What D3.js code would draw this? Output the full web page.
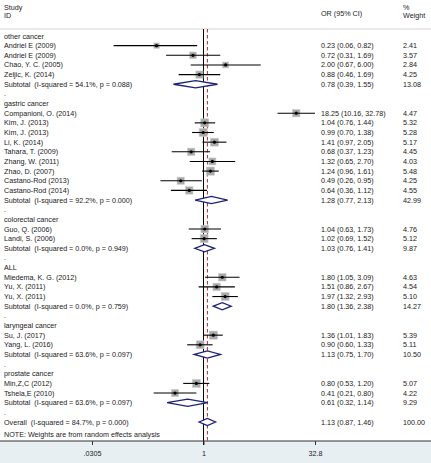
<!DOCTYPE html>
<html><head><meta charset="utf-8">
<script src="https://cdn.jsdelivr.net/npm/d3@7"></script>
<style>
html,body{margin:0;padding:0;background:#fff;}
svg{display:block;font-family:"Liberation Sans",Arial,sans-serif;}
text{white-space:pre;}
</style></head>
<body>
<script>
const rowLabels = [
  "other cancer","Andriel E (2009)","Andriel E (2009)","Chao, Y. C. (2005)","Zeljic, K. (2014)",
  "Subtotal  (I-squared = 54.1%, p = 0.088)",".",
  "gastric cancer","Companioni, O. (2014)","Kim, J. (2013)","Kim, J. (2013)","Li, K. (2014)",
  "Tahara, T. (2009)","Zhang, W. (2011)","Zhao, D. (2007)","Castano-Rod (2013)","Castano-Rod (2014)",
  "Subtotal  (I-squared = 92.2%, p = 0.000)",".",
  "colorectal cancer","Guo, Q. (2006)","Landi, S. (2006)",
  "Subtotal  (I-squared = 0.0%, p = 0.949)",".",
  "ALL","Miedema, K. G. (2012)","Yu, X. (2011)","Yu, X. (2011)",
  "Subtotal  (I-squared = 0.0%, p = 0.759)",".",
  "laryngeal cancer","Su, J. (2017)","Yang, L. (2016)",
  "Subtotal  (I-squared = 63.6%, p = 0.097)",".",
  "prostate cancer","Min,Z,C (2012)","Tshela,E (2010)",
  "Subtotal  (I-squared = 63.6%, p = 0.097)",".",
  "Overall  (I-squared = 84.7%, p = 0.000)"
];
const rowKinds = [
  "group","study","study","study","study","sub","blank",
  "group","study","study","study","study","study","study","study","study","study","sub","blank",
  "group","study","study","sub","blank",
  "group","study","study","study","sub","blank",
  "group","study","study","sub","blank",
  "group","study","study","sub","blank",
  "overall"
];
const orValues = [null,0.23,0.72,2.00,0.88,0.78,null,
  null,18.25,1.04,0.99,1.41,0.68,1.32,1.24,0.49,0.64,1.28,null,
  null,1.04,1.02,1.03,null,
  null,1.80,1.51,1.97,1.80,null,
  null,1.36,0.90,1.13,null,
  null,0.80,0.41,0.61,null,
  1.13];
const lowerCI = [null,0.06,0.31,0.67,0.46,0.39,null,
  null,10.16,0.76,0.70,0.97,0.37,0.65,0.96,0.26,0.36,0.77,null,
  null,0.63,0.69,0.76,null,
  null,1.05,0.86,1.32,1.36,null,
  null,1.01,0.60,0.75,null,
  null,0.53,0.21,0.32,null,
  0.87];
const upperCI = [null,0.82,1.69,6.00,1.69,1.55,null,
  null,32.78,1.44,1.38,2.05,1.23,2.70,1.61,0.95,1.12,2.13,null,
  null,1.73,1.52,1.41,null,
  null,3.09,2.67,2.93,2.38,null,
  null,1.83,1.33,1.70,null,
  null,1.20,0.80,1.14,null,
  1.46];
const weights = [null,2.41,3.57,2.84,4.25,13.08,null,
  null,4.47,5.32,5.28,5.17,4.45,4.03,5.48,4.25,4.55,42.99,null,
  null,4.76,5.12,9.87,null,
  null,4.63,4.54,5.10,14.27,null,
  null,5.39,5.11,10.50,null,
  null,5.07,4.22,9.29,null,
  100.00];
const tickValues = [0.0305, 1, 32.8];
const tickLabels = [".0305", "1", "32.8"];
const noteText = "NOTE: Weights are from random effects analysis";

const W = 431, H = 463;
const svg = d3.select("body").append("svg").attr("width", W).attr("height", H);

const x = d3.scaleLog().domain([0.0305, 32.8]).range([92, 315]);
const y = d3.scaleLinear().domain([0, 40]).range([36, 422]);
const fs = 7.2;
const navy = "#1e2278";
const txt = "#1a1a1a";

const axisY = 441, topLine = 29;
svg.append("rect").attr("x",0).attr("y",axisY).attr("width",W).attr("height",H-axisY).attr("fill","#e8eff3");
svg.append("line").attr("x1",0).attr("x2",W).attr("y1",topLine).attr("y2",topLine).attr("stroke","#d6d6d6").attr("stroke-width",1);

const hdr = svg.append("g").attr("font-size",fs).attr("fill",txt);
hdr.append("text").attr("x",4).attr("y",9.5).text("Study");
hdr.append("text").attr("x",4).attr("y",18).text("ID");
hdr.append("text").attr("x",321).attr("y",15.5).text("OR (95% CI)");
hdr.append("text").attr("x",403).attr("y",9.5).text("%");
hdr.append("text").attr("x",403).attr("y",18).text("Weight");

svg.append("line").attr("x1",x(1)).attr("x2",x(1)).attr("y1",topLine).attr("y2",axisY+4)
  .attr("stroke","#000").attr("stroke-width",1);
const overallIdx = rowKinds.indexOf("overall");
svg.append("line").attr("x1",x(orValues[overallIdx])).attr("x2",x(orValues[overallIdx]))
  .attr("y1",topLine).attr("y2",axisY).attr("stroke","#b02a2a").attr("stroke-width",1).attr("stroke-dasharray","3.5,2.5");

const rows = rowLabels.map((l,i)=>({label:l,kind:rowKinds[i],or:orValues[i],lo:lowerCI[i],hi:upperCI[i],w:weights[i],i}));
const f2 = d3.format(".2f");

svg.append("g").attr("font-size",fs).attr("fill",txt).selectAll("text").data(rows).join("text")
  .attr("x",4).attr("y",d=>y(d.i)+2.5).text(d=>d.label);
svg.append("g").attr("font-size",fs).attr("fill",txt).selectAll("text").data(rows.filter(d=>d.or!=null)).join("text")
  .attr("x",321).attr("y",d=>y(d.i)+2.5).text(d=>`${f2(d.or)} (${f2(d.lo)}, ${f2(d.hi)})`);
svg.append("g").attr("font-size",fs).attr("fill",txt).selectAll("text").data(rows.filter(d=>d.w!=null)).join("text")
  .attr("x",403).attr("y",d=>y(d.i)+2.5).text(d=>f2(d.w));

const st = rows.filter(d=>d.kind==="study");
const g = svg.append("g");
const half = d=>1.75*Math.sqrt(d.w);
g.selectAll("rect.box").data(st).join("rect").attr("class","box")
  .attr("x",d=>x(d.or)-half(d)).attr("y",d=>y(d.i)-half(d))
  .attr("width",d=>2*half(d)).attr("height",d=>2*half(d))
  .attr("fill","#a8a8a8").attr("stroke","#cccccc").attr("stroke-width",0.6);
g.selectAll("line.ci").data(st).join("line").attr("class","ci")
  .attr("x1",d=>x(d.lo)).attr("x2",d=>x(d.hi)).attr("y1",d=>y(d.i)).attr("y2",d=>y(d.i))
  .attr("stroke","#000").attr("stroke-width",1.1);
g.selectAll("circle").data(st).join("circle")
  .attr("cx",d=>x(d.or)).attr("cy",d=>y(d.i)).attr("r",1.6).attr("fill","#000");

const dm = rows.filter(d=>d.kind==="sub"||d.kind==="overall");
g.selectAll("path.dia").data(dm).join("path").attr("class","dia")
  .attr("d",d=>{const yy=y(d.i), h=3.6; return `M${x(d.lo)},${yy}L${x(d.or)},${yy-h}L${x(d.hi)},${yy}L${x(d.or)},${yy+h}Z`;})
  .attr("fill","#fff").attr("stroke",navy).attr("stroke-width",1.3);

svg.append("text").attr("x",4).attr("y",436.5).attr("font-size",fs).attr("fill",txt).text(noteText);

svg.append("line").attr("x1",0).attr("x2",W).attr("y1",axisY).attr("y2",axisY).attr("stroke","#333").attr("stroke-width",1);
const ax = svg.append("g").attr("transform",`translate(0,${axisY})`)
  .call(d3.axisBottom(x).tickValues(tickValues).tickFormat((d,i)=>tickLabels[i]).tickSize(4).tickPadding(6));
ax.select(".domain").remove();
ax.selectAll("text").attr("font-size",fs).attr("fill",txt).attr("font-family","Liberation Sans, Arial, sans-serif");
ax.selectAll("line").attr("stroke","#333");
</script>
</body></html>
